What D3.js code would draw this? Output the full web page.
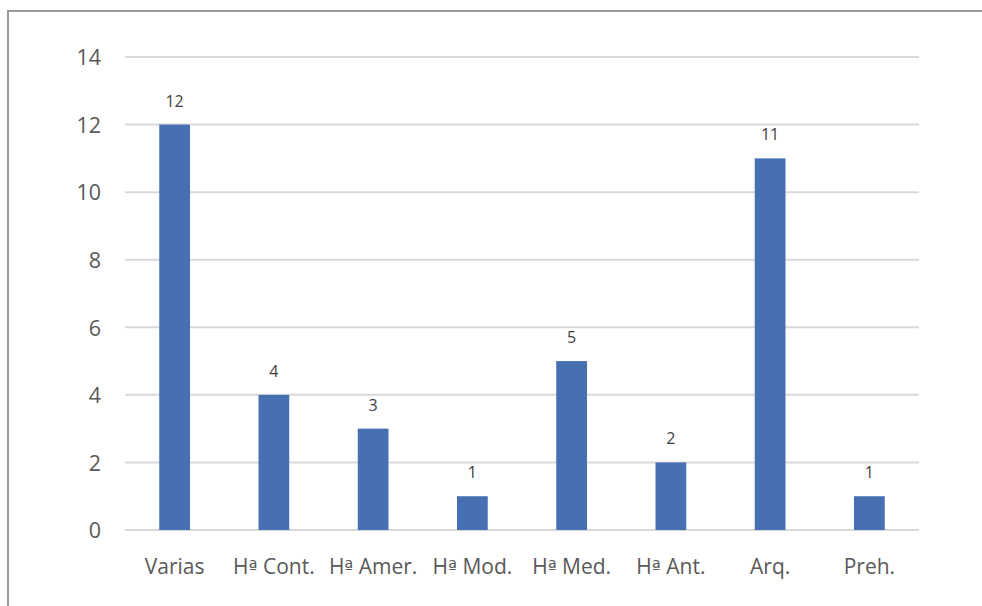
<!DOCTYPE html>
<html><head><meta charset="utf-8">
<script src="https://cdn.jsdelivr.net/npm/d3@7"></script>
<style>
html,body{margin:0;padding:0;background:#fff;}
svg{display:block;font-family:"Open Sans","Noto Sans",sans-serif;}
</style></head>
<body>
<svg id="chart" width="982" height="606"></svg>
<script>
const categories = ["Varias","Hª Cont.","Hª Amer.","Hª Mod.","Hª Med.","Hª Ant.","Arq.","Preh."];
const values = [12,4,3,1,5,2,11,1];
const yTicks = [0,2,4,6,8,10,12,14];

(function(){
const svg = d3.select("#chart");
const W = 982, H = 606;
const pLeft = 125, pRight = 919, pTop = 57, pBottom = 530;

// frame (top and left edges)
svg.append("line").attr("x1",8).attr("x2",W).attr("y1",11).attr("y2",11)
  .attr("stroke","#9a9a9a").attr("stroke-width",2);
svg.append("line").attr("x1",8).attr("x2",8).attr("y1",10).attr("y2",H)
  .attr("stroke","#9a9a9a").attr("stroke-width",2);

const x = d3.scaleBand().domain(categories).range([pLeft,pRight]).paddingInner(0.69).paddingOuter(0.345);
const y = d3.scaleLinear().domain([0,14]).range([pBottom,pTop]);

// gridlines
svg.append("g").selectAll("line").data(yTicks).join("line")
  .attr("x1",pLeft).attr("x2",pRight)
  .attr("y1",d=>y(d)).attr("y2",d=>y(d))
  .attr("stroke","#d9d9d9").attr("stroke-width",2);

// y axis labels
const yAxis = d3.axisLeft(y).tickValues(yTicks).tickSize(0).tickPadding(0);
const gy = svg.append("g").attr("transform",`translate(101,0)`).call(yAxis);
gy.select(".domain").remove();
gy.selectAll("text").attr("font-size",21.5).attr("fill","#595959")
  .attr("font-family","'Open Sans','Noto Sans',sans-serif").attr("dy","0.36em");

// bars
svg.append("g").selectAll("rect").data(values).join("rect")
  .attr("x",(d,i)=>x(categories[i]))
  .attr("width",x.bandwidth())
  .attr("y",d=>y(d))
  .attr("height",d=>y(0)-y(d))
  .attr("fill","#4770b3");

// data labels
svg.append("g").selectAll("text").data(values).join("text")
  .attr("x",(d,i)=>x(categories[i])+x.bandwidth()/2)
  .attr("y",d=>y(d)-18)
  .attr("text-anchor","middle")
  .attr("font-size",16)
  .attr("fill","#404040")
  .text(d=>d);

// x axis labels
const xAxis = d3.axisBottom(x).tickSize(0).tickPadding(0);
const gx = svg.append("g").attr("transform",`translate(0,${pBottom})`).call(xAxis);
gx.select(".domain").remove();
gx.selectAll("text").attr("font-size",21).attr("fill","#595959")
  .attr("font-family","'Open Sans','Noto Sans',sans-serif")
  .attr("dy",null).attr("y",44)
  .each(function(d){
    const t = d3.select(this);
    const parts = d.split("ª");
    if (parts.length < 2) return;
    t.text(null);
    t.append("tspan").text(parts[0]);
    t.append("tspan").attr("font-family","'DejaVu Sans'").attr("font-size",19).text("ª");
    t.append("tspan").text(parts[1]);
  });
})();
</script>
</body></html>
